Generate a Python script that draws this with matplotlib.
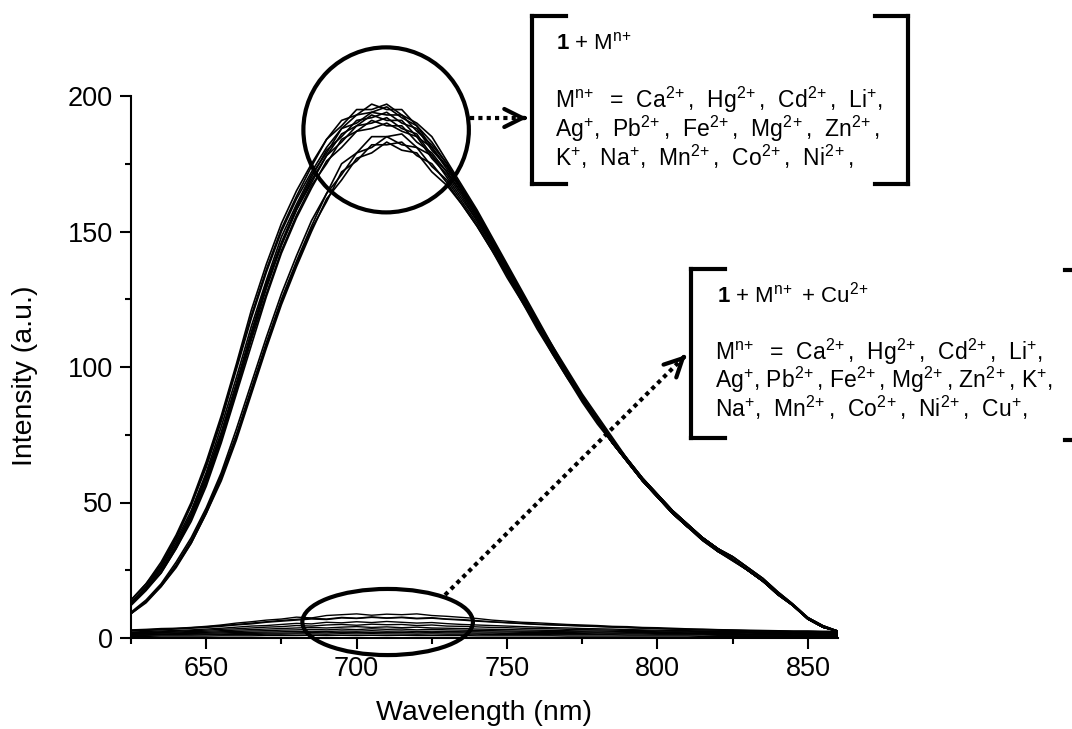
import matplotlib
matplotlib.use("Agg")
import matplotlib.pyplot as plt
from matplotlib.patches import Ellipse
from matplotlib.lines import Line2D
from matplotlib.ticker import MultipleLocator
import numpy as np

plt.rcParams['font.family'] = ['Liberation Sans', 'DejaVu Sans']
plt.rcParams['mathtext.fontset'] = 'custom'
plt.rcParams['mathtext.rm'] = 'Liberation Sans'
plt.rcParams['mathtext.bf'] = 'Liberation Sans:bold'
plt.rcParams['mathtext.default'] = 'regular'

W, H = 1072, 729

# emission spectra, sampled every 5 nm
wavelength = np.arange(625, 861, 5)

# 1 + M(n+)
free_spectra = [
    [14, 20, 28, 38, 50, 65, 82, 101, 121, 138, 153, 165, 175, 184, 191, 193, 197, 195, 195, 189, 183, 175, 166, 157,
     147, 137, 127, 117, 107, 98, 89, 81, 73, 66, 59, 53, 47, 42, 37, 33, 30, 26, 22, 17, 12.5, 7.5, 4.5, 2.5],
    [14, 20, 27, 37, 49, 64, 81, 100, 119, 136, 151, 163, 174, 184, 189, 195, 195, 197, 193, 190, 185, 176, 167, 158,
     148, 138, 128, 118, 108, 99, 90, 82, 74, 66, 59, 53, 47, 42, 37, 33, 30, 26, 22, 17, 12.5, 7.5, 4.5, 2.5],
    [13, 19, 27, 37, 49, 63, 80, 99, 118, 135, 150, 162, 172, 181, 188, 193, 194, 196, 192, 189, 181, 174, 165, 156,
     146, 136, 126, 116, 106, 97, 88, 80, 72, 65, 58, 52, 46, 41, 37, 33, 30, 26, 22, 17, 12.5, 7.5, 4.5, 2.5],
    [13, 19, 26, 36, 47, 61, 78, 96, 115, 132, 148, 160, 171, 179, 188, 190, 194, 193, 193, 187, 182, 175, 166, 157,
     147, 137, 127, 117, 107, 98, 89, 81, 73, 66, 59, 53, 47, 42, 37, 33, 29, 25, 21, 16.5, 12, 7.5, 4.5, 2.5],
    [13, 18, 26, 35, 46, 60, 76, 94, 113, 131, 146, 159, 170, 180, 185, 191, 192, 194, 190, 188, 180, 174, 166, 157,
     147, 137, 127, 117, 108, 98, 89, 81, 73, 66, 59, 53, 47, 42, 37, 33, 29, 25, 21, 16.5, 12, 7, 4, 2.5],
    [13, 18, 25, 34, 45, 58, 74, 92, 111, 129, 145, 158, 169, 178, 186, 189, 193, 191, 191, 185, 181, 173, 165, 156,
     146, 136, 126, 116, 107, 97, 89, 80, 72, 65, 58, 52, 46, 41, 37, 33, 29, 25, 21, 16.5, 12, 7, 4, 2.5],
    [12.5, 18, 25, 34, 45, 59, 75, 93, 112, 130, 145, 158, 168, 178, 183, 189, 190, 192, 188, 186, 178, 172, 164, 155,
     146, 136, 126, 117, 107, 98, 89, 81, 73, 66, 59, 53, 47, 42, 37, 33, 29, 25, 21, 16.5, 12, 7, 4, 2.5],
    [12.5, 18, 24, 33, 44, 57, 73, 91, 110, 127, 143, 156, 167, 175, 184, 187, 191, 189, 189, 183, 179, 172, 164, 155,
     145, 135, 125, 116, 106, 97, 88, 80, 72, 65, 58, 52, 46, 41, 37, 33, 29, 25, 21, 16.5, 12, 7, 4, 2.5],
    [12, 17.5, 24, 33, 43, 56, 72, 90, 108, 126, 142, 155, 166, 176, 181, 187, 188, 190, 187, 185, 177, 171, 163, 154,
     145, 135, 125, 116, 106, 97, 88, 80, 72, 65, 58, 52, 46, 41, 37, 32, 29, 25, 21, 16, 12, 7, 4, 2.5],
    [9.5, 14, 20, 28, 37, 48, 61, 77, 94, 111, 127, 141, 154, 164, 175, 179, 185, 185, 186, 181, 178, 170, 162, 154,
     145, 135, 125, 116, 106, 97, 88, 80, 72, 65, 58, 52, 46, 41, 37, 32, 29, 25, 21, 16, 12, 7, 4, 2.5],
    [9, 13.5, 19.5, 27, 36, 47, 60, 75, 92, 109, 125, 139, 152, 164, 171, 179, 181, 185, 182, 181, 174, 169, 161, 153,
     144, 134, 125, 115, 106, 97, 88, 80, 72, 65, 58, 52, 46, 41, 36, 32, 29, 25, 21, 16, 12, 7, 4, 2.5],
    [9, 13.5, 19, 26.5, 35, 46, 59, 74, 91, 108, 124, 138, 151, 161, 172, 176, 182, 182, 183, 178, 175, 168, 160, 152,
     143, 134, 124, 115, 105, 96, 88, 80, 72, 65, 58, 52, 46, 41, 36, 32, 28.5, 25, 21, 16, 12, 7, 4, 2.5],
    [9, 13, 19, 26, 35, 46, 58, 73, 90, 107, 123, 137, 150, 162, 169, 177, 179, 183, 180, 179, 172, 167, 160, 152,
     143, 133, 124, 114, 105, 96, 87, 79, 72, 65, 58, 52, 46, 41, 36, 32, 28.5, 25, 21, 16, 12, 7, 4, 2.5],
]

# 1 + M(n+) + Cu(2+)
cu_spectra = [
    [3.0, 3.2, 3.5, 3.6, 3.9, 4.3, 4.8, 5.5, 6.0, 6.6, 7.0, 7.7, 7.4, 8.3, 8.6, 8.9, 8.4, 8.8, 8.6, 8.9, 8.3, 8.0, 7.6, 7.2,
     6.6, 6.2, 5.8, 5.6, 5.3, 5.0, 4.8, 4.6, 4.3, 4.2, 3.9, 3.8, 3.6, 3.4, 3.3, 3.1, 3.0, 2.9, 2.8, 2.7, 2.6, 2.6, 2.5, 2.5],
    [2.8, 3.0, 3.2, 3.5, 3.8, 4.1, 4.6, 5.0, 5.5, 6.0, 6.5, 6.9, 7.3, 7.0, 7.6, 7.3, 7.8, 7.4, 7.7, 7.3, 7.5, 7.0, 6.8, 6.4,
     6.0, 5.7, 5.4, 5.1, 4.9, 4.7, 4.5, 4.3, 4.1, 3.9, 3.7, 3.5, 3.3, 3.2, 3.0, 2.9, 2.8, 2.7, 2.6, 2.5, 2.4, 2.4, 2.3, 2.3],
    [2.6, 2.8, 3.0, 3.3, 3.6, 3.9, 4.3, 4.8, 5.2, 5.8, 6.2, 6.6, 7.0, 6.8, 7.4, 7.2, 7.6, 7.3, 7.5, 7.1, 7.3, 6.9, 6.6, 6.2,
     5.9, 5.6, 5.3, 5.0, 4.8, 4.6, 4.4, 4.2, 4.0, 3.8, 3.6, 3.5, 3.3, 3.1, 3.0, 2.9, 2.8, 2.7, 2.6, 2.5, 2.4, 2.4, 2.3, 2.3],
    [2.2, 2.4, 2.6, 2.8, 3.0, 3.3, 3.6, 4.0, 4.4, 4.6, 5.0, 5.4, 5.2, 5.8, 5.6, 6.0, 5.7, 6.1, 5.8, 5.5, 5.7, 5.3, 5.0, 4.8,
     4.6, 4.4, 4.2, 4.0, 3.8, 3.7, 3.5, 3.4, 3.3, 3.1, 3.0, 2.9, 2.8, 2.7, 2.6, 2.5, 2.4, 2.3, 2.3, 2.2, 2.2, 2.1, 2.1, 2.0],
    [2.0, 2.1, 2.3, 2.5, 2.7, 2.9, 3.2, 3.4, 3.7, 4.0, 4.2, 4.6, 4.4, 4.8, 5.0, 4.7, 5.1, 4.9, 5.0, 4.6, 4.8, 4.4, 4.3, 4.1,
     3.9, 3.8, 3.6, 3.5, 3.4, 3.2, 3.1, 3.0, 2.9, 2.8, 2.7, 2.6, 2.5, 2.5, 2.4, 2.3, 2.3, 2.2, 2.1, 2.1, 2.0, 2.0, 1.9, 1.9],
    [1.8, 1.9, 2.0, 2.2, 2.4, 2.5, 2.7, 2.9, 3.1, 3.3, 3.5, 3.7, 3.9, 3.7, 4.0, 4.2, 3.9, 4.1, 3.8, 4.0, 3.7, 3.6, 3.5, 3.3,
     3.2, 3.1, 3.0, 2.9, 2.8, 2.7, 2.6, 2.6, 2.5, 2.4, 2.4, 2.3, 2.2, 2.2, 2.1, 2.1, 2.0, 2.0, 1.9, 1.9, 1.8, 1.8, 1.8, 1.7],
    [1.6, 1.7, 1.8, 1.9, 2.0, 2.1, 2.3, 2.4, 2.6, 2.7, 2.9, 3.0, 3.2, 3.0, 3.3, 3.1, 3.4, 3.2, 3.3, 3.0, 3.2, 3.0, 2.9, 2.8,
     2.7, 2.6, 2.5, 2.5, 2.4, 2.3, 2.3, 2.2, 2.2, 2.1, 2.1, 2.0, 2.0, 1.9, 1.9, 1.8, 1.8, 1.8, 1.7, 1.7, 1.7, 1.6, 1.6, 1.6],
    [1.4, 1.5, 1.5, 1.6, 1.7, 1.8, 1.9, 2.0, 2.1, 2.2, 2.3, 2.4, 2.5, 2.4, 2.6, 2.5, 2.7, 2.5, 2.6, 2.4, 2.5, 2.4, 2.3, 2.3,
     2.2, 2.2, 2.1, 2.1, 2.0, 2.0, 1.9, 1.9, 1.8, 1.8, 1.8, 1.7, 1.7, 1.7, 1.6, 1.6, 1.6, 1.5, 1.5, 1.5, 1.5, 1.4, 1.4, 1.4],
    [1.2, 1.2, 1.3, 1.3, 1.4, 1.5, 1.5, 1.6, 1.7, 1.8, 1.8, 1.9, 2.0, 1.9, 2.1, 2.0, 2.1, 2.0, 2.1, 1.9, 2.0, 1.9, 1.9, 1.8,
     1.8, 1.7, 1.7, 1.7, 1.6, 1.6, 1.6, 1.5, 1.5, 1.5, 1.5, 1.4, 1.4, 1.4, 1.4, 1.3, 1.3, 1.3, 1.3, 1.3, 1.2, 1.2, 1.2, 1.2],
    [1.0, 1.0, 1.1, 1.1, 1.1, 1.2, 1.2, 1.3, 1.3, 1.4, 1.4, 1.5, 1.5, 1.4, 1.6, 1.5, 1.6, 1.5, 1.5, 1.4, 1.5, 1.4, 1.4, 1.4,
     1.3, 1.3, 1.3, 1.3, 1.2, 1.2, 1.2, 1.2, 1.2, 1.1, 1.1, 1.1, 1.1, 1.1, 1.1, 1.0, 1.0, 1.0, 1.0, 1.0, 1.0, 1.0, 1.0, 1.0],
    [0.6, 0.6, 0.7, 0.7, 0.7, 0.7, 0.8, 0.8, 0.8, 0.9, 0.9, 0.9, 1.0, 0.9, 1.0, 0.9, 1.0, 0.9, 1.0, 0.9, 0.9, 0.9, 0.9, 0.8,
     0.8, 0.8, 0.8, 0.8, 0.8, 0.7, 0.7, 0.7, 0.7, 0.7, 0.7, 0.7, 0.7, 0.7, 0.6, 0.6, 0.6, 0.6, 0.6, 0.6, 0.6, 0.6, 0.6, 0.6],
]

x_ticks = [650, 700, 750, 800, 850]
y_ticks = [0, 50, 100, 150, 200]

box1_lines = [
    r'M$^{n\!+}$  =  Ca$^{2\!+}$,  Hg$^{2\!+}$,  Cd$^{2\!+}$,  Li$^{+}$,',
    r'Ag$^{+}$,  Pb$^{2\!+}$,  Fe$^{2\!+}$,  Mg$^{2\!+}$,  Zn$^{2\!+}$,',
    r'K$^{+}$,  Na$^{+}$,  Mn$^{2\!+}$,  Co$^{2\!+}$,  Ni$^{2\!+}$,',
]
box2_lines = [
    r'M$^{n\!+}$  =  Ca$^{2\!+}$,  Hg$^{2\!+}$,  Cd$^{2\!+}$,  Li$^{+}$,',
    r'Ag$^{+}$, Pb$^{2\!+}$, Fe$^{2\!+}$, Mg$^{2\!+}$, Zn$^{2\!+}$, K$^{+}$,',
    r'Na$^{+}$,  Mn$^{2\!+}$,  Co$^{2\!+}$,  Ni$^{2\!+}$,  Cu$^{+}$,',
]


def fpx(x, y):
    # pixel position (from top-left) -> figure fraction
    return x / W, 1 - y / H


fig = plt.figure(figsize=(W / 100, H / 100), dpi=100)
ax = fig.add_axes([131 / W, 1 - 638 / H, 707 / W, 542 / H])

for row in free_spectra:
    ax.plot(wavelength, row, color='black', lw=1.2)
for row in cu_spectra:
    ax.plot(wavelength, row, color='black', lw=1.0)

ax.set_xlim(625, 860)
ax.set_ylim(0, 200)
ax.spines['top'].set_visible(False)
ax.spines['right'].set_visible(False)
ax.spines['left'].set_linewidth(1.5)
ax.spines['bottom'].set_linewidth(1.5)
ax.set_xticks(x_ticks)
ax.set_yticks(y_ticks)
ax.xaxis.set_minor_locator(MultipleLocator(25))
ax.yaxis.set_minor_locator(MultipleLocator(25))
ax.tick_params(which='major', direction='out', length=8, width=1.5, labelsize=19.5, pad=5)
ax.tick_params(which='minor', direction='out', length=4.5, width=1.5)

ax.set_xlabel('Wavelength (nm)', fontsize=20.5)
ax.set_ylabel('Intensity (a.u.)', fontsize=20.5)
ax.xaxis.label.set_va('center')
ax.yaxis.label.set_va('center')
ax.xaxis.set_label_coords(0.5, (638 - 713) / 542)
ax.yaxis.set_label_coords((25 - 131) / 707, (638 - 376) / 542)

# circles around the two groups of spectra
ax.add_patch(Ellipse((709.8, 187.5), 55, 60.9, fill=False, lw=3, color='black', clip_on=False))
ax.add_patch(Ellipse((710.3, 5.9), 56.7, 24.4, fill=False, lw=3, color='black', clip_on=False))


def dotted_arrow(x0, y0, x1, y1):
    a, b = fpx(x0, y0)
    c, d = fpx(x1, y1)
    fig.add_artist(Line2D([a, c], [b, d], transform=fig.transFigure, color='black',
                          lw=3, linestyle=(0, (1, 1)), dash_capstyle='butt'))
    L = np.hypot(x1 - x0, y1 - y0)
    bx, by = x1 - 3 * (x1 - x0) / L, y1 - 3 * (y1 - y0) / L
    ax.annotate('', xy=fpx(x1, y1), xytext=fpx(bx, by), xycoords='figure fraction',
                textcoords='figure fraction',
                arrowprops=dict(arrowstyle='->,head_length=1.3,head_width=0.65', lw=3,
                                color='black', shrinkA=0, shrinkB=0))


dotted_arrow(470, 118, 527, 118)
dotted_arrow(445, 595, 686, 355)


def bracket(x, y0, y1, serif):
    for xs, ys in [([x, x], [y0, y1]), ([x, x + serif], [y0, y0]), ([x, x + serif], [y1, y1])]:
        fig.add_artist(Line2D([v / W for v in xs], [1 - v / H for v in ys],
                              transform=fig.transFigure, color='black', lw=3,
                              solid_capstyle='projecting'))


bracket(532, 16, 184, 34)
bracket(908, 16, 184, -33)
bracket(691, 269, 438, 34)
bracket(1078, 270, 440, -13)

fig.text(*fpx(556, 50), r'$\mathbf{1}$ + M$^{n\!+}$', fontsize=16, va='baseline')
for line, yb in zip(box1_lines, [108, 137, 166]):
    fig.text(*fpx(555, yb), line, fontsize=16.5, va='baseline')

fig.text(*fpx(717, 303), r'$\mathbf{1}$ + M$^{n\!+}$ + Cu$^{2\!+}$', fontsize=16, va='baseline')
for line, yb in zip(box2_lines, [360, 388, 417]):
    fig.text(*fpx(715, yb), line, fontsize=16.5, va='baseline')

fig.savefig('out.png', dpi=100)
